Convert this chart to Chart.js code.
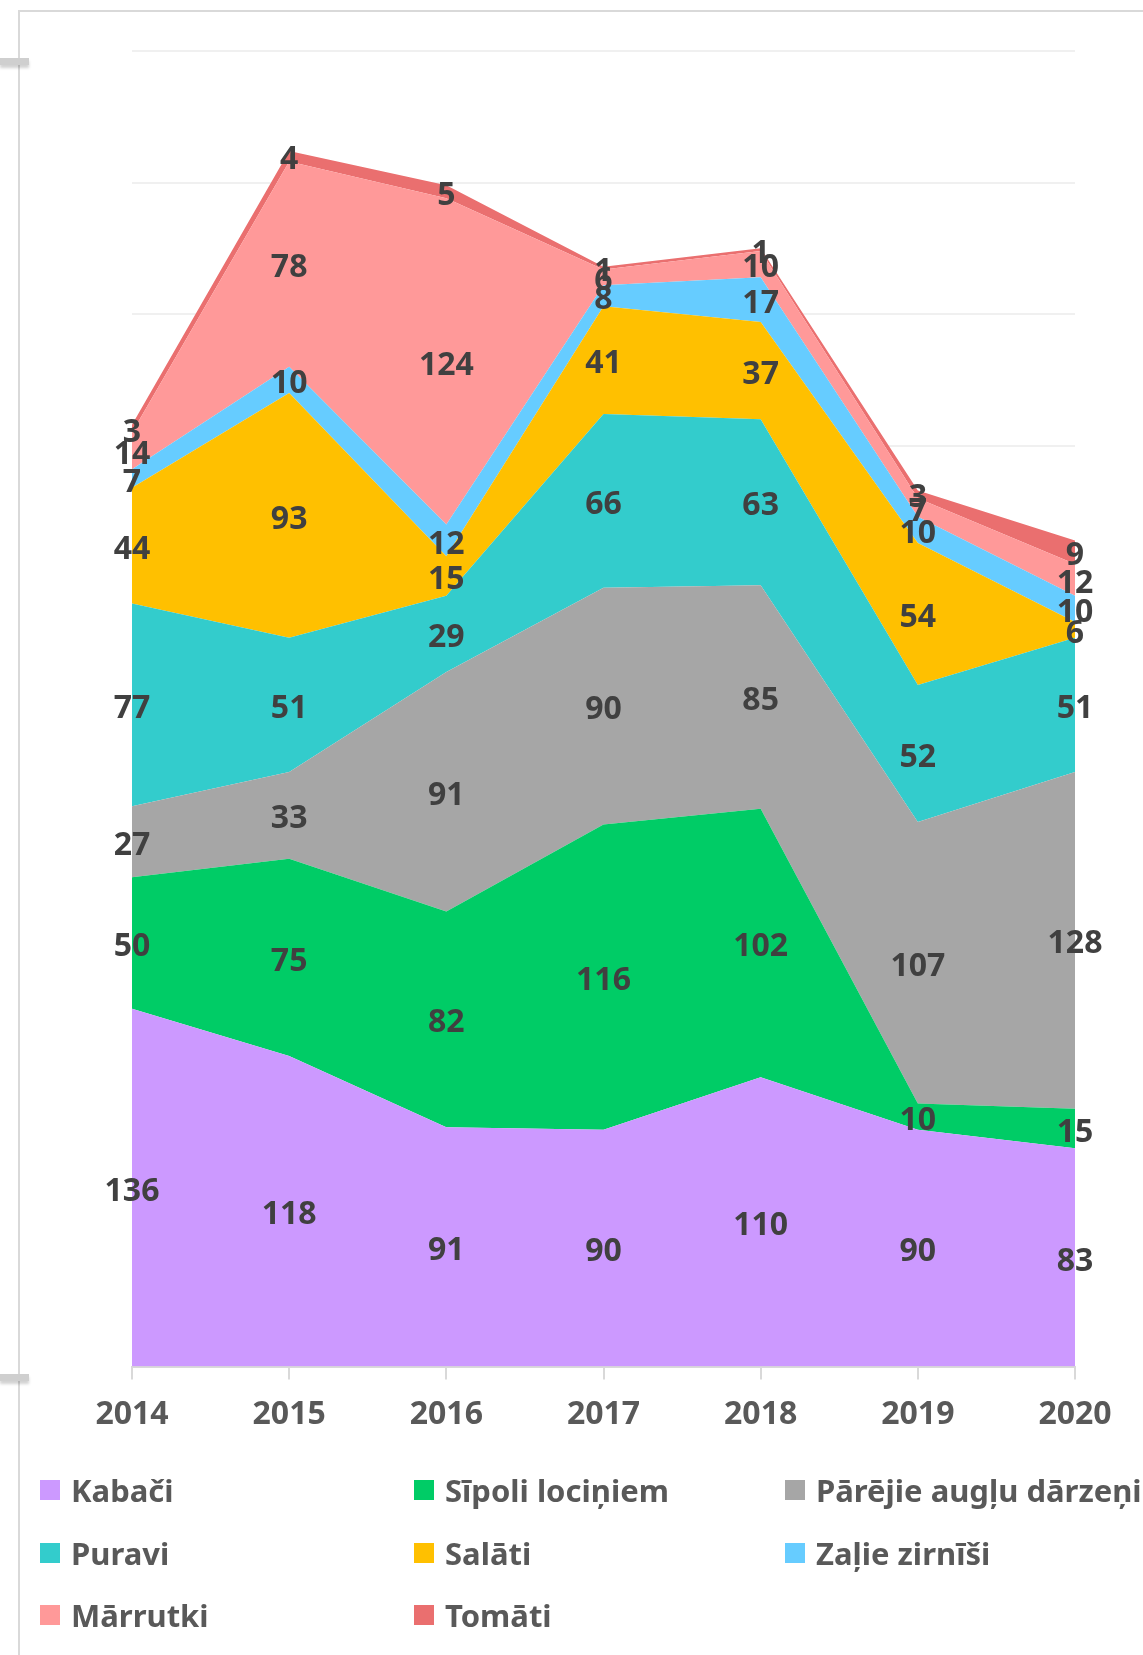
<!DOCTYPE html>
<html>
<head>
<meta charset="utf-8">
<script src="https://cdn.jsdelivr.net/npm/chart.js@4"></script>
<style>
  html, body { margin:0; padding:0; background:#fff; }
  body { width:1143px; height:1655px; position:relative; overflow:hidden; font-family:'Noto Sans', sans-serif; }
  #frame { position:absolute; left:18px; top:10px; width:2000px; height:2000px; border-left:2px solid #d9d9d9; border-top:2px solid #d9d9d9; }
  .handle { position:absolute; left:0; width:29px; height:7px; background:#cfcfcf; box-shadow:0 3px 3px rgba(0,0,0,0.18); }
  #wrap { position:absolute; left:0; top:0; width:1143px; height:1460px; }
  #legend { position:absolute; left:0; top:0; width:1143px; height:1655px; pointer-events:none; }
  .li { position:absolute; display:flex; align-items:center; height:40px; font-weight:bold; font-size:31px; color:#595959; white-space:nowrap; }
  .li .box { width:20px; height:20px; margin-right:11px; flex:none; }
</style>
</head>
<body>
<div id="frame"></div>
<div class="handle" style="top:58px"></div>
<div class="handle" style="top:1374px"></div>
<div id="wrap"><canvas id="c" width="1143" height="1460"></canvas></div>
<div id="legend"></div>
<script>
const years    = ['2014','2015','2016','2017','2018','2019','2020'];
const kabaci   = [136, 118, 91, 90, 110, 90, 83];
const sipoli   = [50, 75, 82, 116, 102, 10, 15];
const parejie  = [27, 33, 91, 90, 85, 107, 128];
const puravi   = [77, 51, 29, 66, 63, 52, 51];
const salati   = [44, 93, 15, 41, 37, 54, 6];
const zalie    = [7, 10, 12, 8, 17, 10, 10];
const marrutki = [14, 78, 124, 6, 10, 7, 12];
const tomati   = [3, 4, 5, 1, 1, 3, 9];

const seriesNames  = ['Kabači','Sīpoli lociņiem','Pārējie augļu dārzeņi','Puravi','Salāti','Zaļie zirnīši','Mārrutki','Tomāti'];
const seriesData   = [kabaci, sipoli, parejie, puravi, salati, zalie, marrutki, tomati];
const seriesColors = ['#cc99ff','#00cc66','#a6a6a6','#33cccc','#ffc000','#66ccff','#ff9999','#ea6f6f'];

const datasets = seriesNames.map((n, i) => ({
  label: n,
  data: seriesData[i],
  backgroundColor: seriesColors[i],
  borderColor: seriesColors[i],
  borderWidth: 0,
  pointRadius: 0,
  pointHoverRadius: 0,
  tension: 0,
  fill: i === 0 ? 'origin' : '-1'
}));

const labelPlugin = {
  id: 'bandLabels',
  afterDatasetsDraw(chart) {
    const ctx = chart.ctx;
    const ys = chart.scales.y;
    ctx.save();
    ctx.font = "bold 32px 'Noto Sans'";
    ctx.fillStyle = '#404040';
    ctx.textAlign = 'center';
    ctx.textBaseline = 'middle';
    const n = chart.data.labels.length;
    for (let j = 0; j < n; j++) {
      let cum = 0;
      chart.data.datasets.forEach((ds, i) => {
        const v = ds.data[j];
        const meta = chart.getDatasetMeta(i);
        const x = meta.data[j].x;
        const y = ys.getPixelForValue(cum + v / 2);
        cum += v;
        ctx.fillText(String(v), x, y + 4);
      });
    }
    ctx.restore();
  }
};

const chart = new Chart(document.getElementById('c'), {
  type: 'line',
  data: { labels: years, datasets },
  options: {
    responsive: false,
    animation: false,
    events: [],
    layout: { padding: { left: 132, right: 68, top: 51, bottom: 10 } },
    plugins: { legend: { display: false }, tooltip: { enabled: false } },
    scales: {
      x: {
        offset: false,
        grid: { drawOnChartArea: false, drawTicks: true, tickLength: 13, color: '#d9d9d9', lineWidth: 2 },
        border: { display: true, color: '#d9d9d9', width: 2 },
        ticks: { color: '#595959', font: { family: 'Noto Sans', size: 32, weight: 'bold' }, padding: 16, maxRotation: 0, autoSkip: false }
      },
      y: {
        stacked: true,
        min: 0, max: 500,
        ticks: { display: false, stepSize: 50 },
        grid: { color: '#f0f0f0', lineWidth: 2, drawTicks: false },
        border: { display: false }
      }
    }
  },
  plugins: [labelPlugin]
});

// HTML legend built from the chart's datasets
const cols = [40, 414, 785];
const rows = [1490, 1553, 1615];
const leg = document.getElementById('legend');
chart.data.datasets.forEach((ds, i) => {
  const el = document.createElement('div');
  el.className = 'li';
  el.style.left = cols[i % 3] + 'px';
  el.style.top = (rows[Math.floor(i / 3)] - 20) + 'px';
  const b = document.createElement('span');
  b.className = 'box';
  b.style.background = ds.backgroundColor;
  const t = document.createElement('span');
  t.textContent = ds.label;
  el.appendChild(b); el.appendChild(t);
  leg.appendChild(el);
});
</script>
</body>
</html>
